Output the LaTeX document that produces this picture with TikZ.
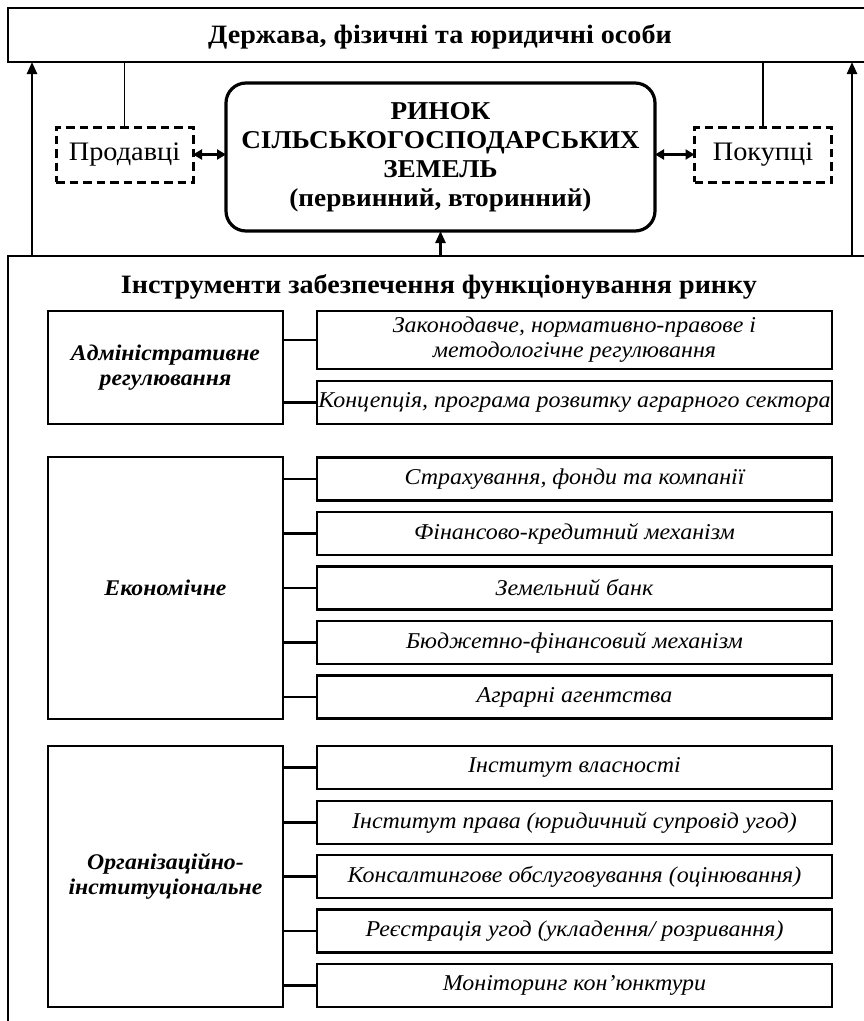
\documentclass[tikz,border=0pt]{standalone}
\usepackage{fontspec}
\setmainfont{Liberation Serif}[FakeStretch=1.06]
\usetikzlibrary{arrows.meta}
\newcommand\ftitlefont{\fontsize{26.5}{29}\selectfont\bfseries}
\newcommand\fmarketfont{\fontsize{25.7}{29}\selectfont\bfseries}
\newcommand\fpartyfont{\fontsize{26.7}{29}\selectfont}
\newcommand\fcatfont{\fontsize{22.4}{25}\selectfont\bfseries\itshape}
\newcommand\fitemfont{\fontsize{22.6}{25}\selectfont\itshape}
\begin{document}
\begin{tikzpicture}[x=1pt,y=-1pt,
  every node/.style={inner sep=0pt, outer sep=0pt},
  frame/.style={draw, line width=1.8pt},
  market/.style={draw, line width=3.2pt, rounded corners=20pt, minimum width=429pt, minimum height=148pt, align=center, font=\fmarketfont},
  party/.style={draw, line width=3pt, dash pattern=on 8.5pt off 5pt, minimum width=137pt, minimum height=55pt, font=\fpartyfont},
  cat/.style={draw, line width=2.7pt, minimum width=235pt, align=center, font=\fcatfont},
  item/.style={draw, line width=2.2pt, minimum width=515pt, minimum height=43pt, align=center, font=\fitemfont},
  link/.style={line width=2.2pt},
  arr/.style={line width=2.4pt, -{Triangle[length=12pt,width=10pt]}},
  darr/.style={line width=2.8pt, {Triangle[length=9pt,width=10pt]}-{Triangle[length=9pt,width=10pt]}},
  thinline/.style={line width=1.5pt}
]
\useasboundingbox (0,0) rectangle (864,1021);
\clip (0,0) rectangle (864,1021);
\fill[white] (0,0) rectangle (864,1021);

% top box
\node[frame, minimum width=872pt, minimum height=54pt, anchor=north west] (state) at (8,8) {};
\node[font=\ftitlefont] (statetxt) at (440,37) {Держава, фізичні та юридичні особи};

% market
\node[market] (market) at (440.5,157) {РИНОК\\СІЛЬСЬКОГОСПОДАРСЬКИХ\\ЗЕМЕЛЬ\\(первинний, вторинний)};
\node[party] (sell) at (124.5,154.5) {Продавці};
\node[party] (buy) at (763,154.5) {Покупці};

% tools box
\node[frame, minimum width=872pt, minimum height=800pt, anchor=north west] (tools) at (8,256) {};
\node[font=\ftitlefont] (toolstxt) at (439,287) {Інструменти забезпечення функціонування ринку};

% categories
\node[cat, minimum height=113pt] (adm) at (165.5,367.5) {Адміністративне\\регулювання};
\node[cat, minimum height=262pt] (eco) at (165.5,588) {Економічне};
\node[cat, minimum height=261pt] (org) at (165.5,876.5) {Організаційно-\\інституціональне};

% items
\node[item, minimum height=58pt] (a1) at (574.5,340) {Законодавче, нормативно-правове і\\методологічне регулювання};
\node[item] (a2) at (574.5,402.5) {Концепція, програма розвитку аграрного сектора};

\node[item] (e1) at (574.5,479) {Страхування, фонди та компанії};
\node[item] (e2) at (574.5,533.5) {Фінансово-кредитний механізм};
\node[item] (e3) at (574.5,588) {Земельний банк};
\node[item] (e4) at (574.5,642.5) {Бюджетно-фінансовий механізм};
\node[item] (e5) at (574.5,697) {Аграрні агентства};

\node[item] (o1) at (574.5,767.5) {Інститут власності};
\node[item] (o2) at (574.5,822.5) {Інститут права (юридичний супровід угод)};
\node[item] (o3) at (574.5,876.5) {Консалтингове обслуговування (оцінювання)};
\node[item] (o4) at (574.5,931) {Реєстрація угод (укладення/ розривання)};
\node[item] (o5) at (574.5,985.5) {Моніторинг кон’юнктури};

% connectors
\foreach \r in {a1,a2} \draw[link] (\r.west) -- (\r.west -| adm.east);
\foreach \r in {e1,e2,e3,e4,e5} \draw[link] (\r.west) -- (\r.west -| eco.east);
\foreach \r in {o1,o2,o3,o4,o5} \draw[link] (\r.west) -- (\r.west -| org.east);

% arrows
\coordinate (la) at (32,0);
\coordinate (ra) at (852,0);
\draw[arr] (la |- tools.north) -- (la |- state.south);
\draw[arr] (ra |- tools.north) -- (ra |- state.south);
\draw[arr] (market.south |- tools.north) -- (market.south);
\draw[thinline] (sell.north) -- (sell.north |- state.south);
\draw[thinline] (buy.north) -- (buy.north |- state.south);
\draw[darr] (sell.east) -- (sell.east -| market.west);
\draw[darr] (buy.west) -- (buy.west -| market.east);
\end{tikzpicture}
\end{document}
